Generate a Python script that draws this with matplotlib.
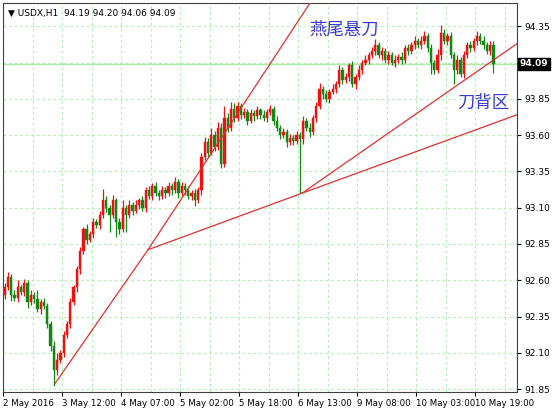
import matplotlib.pyplot as plt
import numpy as np

plt.rcParams['font.family'] = ['DejaVu Sans', 'Noto Sans CJK SC']

closes = [92.55, 92.62, 92.50, 92.48, 92.55, 92.52, 92.58, 92.45, 92.50, 92.47,
          92.40, 92.45, 92.42, 92.30, 92.15, 91.98, 92.05, 92.10, 92.22, 92.30,
          92.45, 92.55, 92.68, 92.80, 92.95, 92.88, 92.92, 93.00, 92.98, 93.05,
          93.15, 93.10, 93.05, 93.15, 93.00, 92.95, 93.10, 93.05, 93.12, 93.08,
          93.12, 93.15, 93.10, 93.22, 93.18, 93.25, 93.20, 93.18, 93.22, 93.20,
          93.25, 93.22, 93.28, 93.20, 93.25, 93.22, 93.18, 93.20, 93.15, 93.22,
          93.45, 93.55, 93.48, 93.60, 93.52, 93.65, 93.40, 93.72, 93.65, 93.78,
          93.72, 93.80, 93.74, 93.76, 93.70, 93.75, 93.73, 93.77, 93.74, 93.72,
          93.76, 93.78, 93.70, 93.65, 93.60, 93.62, 93.55, 93.58, 93.56, 93.60,
          93.57, 93.70, 93.65, 93.62, 93.72, 93.80, 93.92, 93.88, 93.85, 93.90,
          93.92, 93.95, 94.05, 93.98, 94.00, 94.08, 93.95, 94.00, 94.05, 94.10,
          94.12, 94.15, 94.18, 94.22, 94.15, 94.18, 94.12, 94.15, 94.10, 94.12,
          94.14, 94.12, 94.20, 94.18, 94.22, 94.25, 94.22, 94.25, 94.28, 94.20,
          94.10, 94.05, 94.15, 94.30, 94.25, 94.28, 94.15, 94.05, 94.12, 94.02,
          94.15, 94.22, 94.20, 94.25, 94.28, 94.25, 94.22, 94.18, 94.22, 94.09]
first_open = 92.50
# wick extensions in hundredths
upper_wick = [3, 4, 2, 3, 5, 2, 3, 2, 3, 2, 6, 2, 3, 2, 2, 3, 5, 2, 3, 2,
              3, 2, 2, 3, 2, 4, 2, 3, 2, 3, 8, 3, 2, 4, 2, 3, 5, 2, 3, 2,
              3, 2, 3, 2, 3, 2, 3, 2, 3, 2, 3, 2, 3, 2, 3, 2, 3, 2, 3, 2,
              3, 4, 3, 5, 3, 4, 3, 8, 3, 5, 4, 3, 2, 3, 2, 3, 2, 3, 2, 3,
              2, 3, 2, 3, 2, 3, 2, 3, 2, 3, 2, 3, 2, 3, 2, 3, 4, 2, 3, 2,
              3, 2, 3, 2, 3, 2, 3, 2, 3, 2, 3, 2, 3, 4, 2, 3, 2, 3, 2, 3,
              2, 3, 2, 3, 2, 3, 2, 3, 4, 2, 3, 2, 4, 6, 3, 2, 3, 2, 3, 2,
              3, 2, 3, 2, 4, 2, 3, 2, 3, 3]
lower_wick = [3, 2, 4, 2, 3, 2, 3, 4, 2, 3, 2, 3, 2, 3, 4, 11, 3, 2, 3, 2,
              3, 2, 3, 4, 2, 3, 2, 3, 2, 3, 2, 3, 12, 2, 10, 3, 2, 12, 2, 3,
              2, 3, 2, 3, 2, 3, 2, 3, 2, 3, 2, 3, 2, 3, 2, 3, 2, 3, 4, 2,
              3, 2, 3, 2, 3, 2, 3, 2, 3, 2, 3, 2, 3, 2, 3, 2, 3, 2, 3, 2,
              3, 2, 3, 2, 3, 2, 3, 2, 3, 2, 37, 3, 2, 3, 2, 3, 2, 3, 2, 3,
              2, 3, 2, 3, 2, 3, 2, 3, 2, 3, 2, 3, 2, 3, 2, 3, 2, 3, 2, 3,
              2, 3, 2, 3, 2, 3, 2, 3, 2, 3, 8, 3, 2, 3, 2, 3, 2, 10, 3, 2,
              3, 2, 3, 2, 3, 2, 3, 2, 3, 6]

tick_pos = [-0.5, 17.5, 35.5, 53.5, 71.5, 89.5, 107.5, 125.5, 143.5]
tick_labels = ['2 May 2016', '3 May 12:00', '4 May 07:00', '5 May 02:00', '5 May 18:00',
               '6 May 13:00', '9 May 08:00', '10 May 03:00', '10 May 19:00']
y_ticks = [91.85, 92.10, 92.35, 92.60, 92.85, 93.10, 93.35, 93.60, 93.85, 94.10, 94.35]

# trend lines (bar index, price)
line_swallow = ([15.4, 43.7, 93.1], [91.89, 92.81, 94.51])
line_mid = ([43.7, 90.7, 156.2], [92.81, 93.20, 93.74])
line_back = ([90.7, 156.2], [93.20, 94.23])

fig = plt.figure(figsize=(5.54, 4.16), dpi=100)
ax = fig.add_axes([3 / 554, 24 / 416, 514 / 554, 389 / 416])

grid_c = '#b4f0b4'
for x in np.arange(-0.5, 157, 9):
    ax.axvline(x, color=grid_c, ls=(0, (2.5, 2.5)), lw=0.8, zorder=0)
for y in y_ticks:
    ax.axhline(y, color=grid_c, ls=(0, (2.5, 2.5)), lw=0.8, zorder=0)
ax.axhline(94.09, color='#a8eca8', lw=1.0, zorder=1)

opens = [first_open] + closes[:-1]
for i, (o, c) in enumerate(zip(opens, closes)):
    hi = max(o, c) + upper_wick[i] / 100
    lo = min(o, c) - lower_wick[i] / 100
    if abs(c - o) < 0.015:
        col = '#808080'
    elif c > o:
        col = '#ee1111'
    else:
        col = '#118811'
    ax.vlines(i, lo, hi, color=col, lw=0.9, zorder=2)
    ax.bar(i, max(abs(c - o), 0.006), bottom=min(o, c), width=0.7, color=col,
           edgecolor=col, lw=0.3, zorder=3)

for xs, ys in (line_swallow, line_mid, line_back):
    ax.plot(xs, ys, color='#e03030', lw=0.9, zorder=4)

ax.text(93, 94.33, '燕尾悬刀', color='#3a3ad0', fontsize=12.5,
        family=['Noto Sans CJK SC'], va='center')
ax.text(138, 93.82, '刀背区', color='#3a3ad0', fontsize=12.5,
        family=['Noto Sans CJK SC'], va='center')
ax.text(0.01, 0.985, '▼ USDX,H1  94.19 94.20 94.06 94.09', transform=ax.transAxes,
        fontsize=6.5, va='top')

ax.set_xlim(-0.5, 156.2)
ax.set_ylim(91.83, 94.51)
ax.yaxis.tick_right()
ax.set_yticks(y_ticks)
ax.set_yticklabels(['' if v == 94.10 else f'{v:.2f}' for v in y_ticks], fontsize=6.5)
ax.set_xticks(tick_pos)
ax.set_xticklabels(tick_labels, fontsize=6.2, ha='left')
ax.tick_params(length=3, width=0.8, pad=2)
for s in ax.spines.values():
    s.set_color('#404040')
ax.text(1.005, 94.09, '94.09', transform=ax.get_yaxis_transform(), fontsize=6.5,
        color='white', va='center', ha='left', fontweight='bold',
        bbox=dict(facecolor='black', edgecolor='black', pad=1))

fig.savefig('out.png', dpi=100)
